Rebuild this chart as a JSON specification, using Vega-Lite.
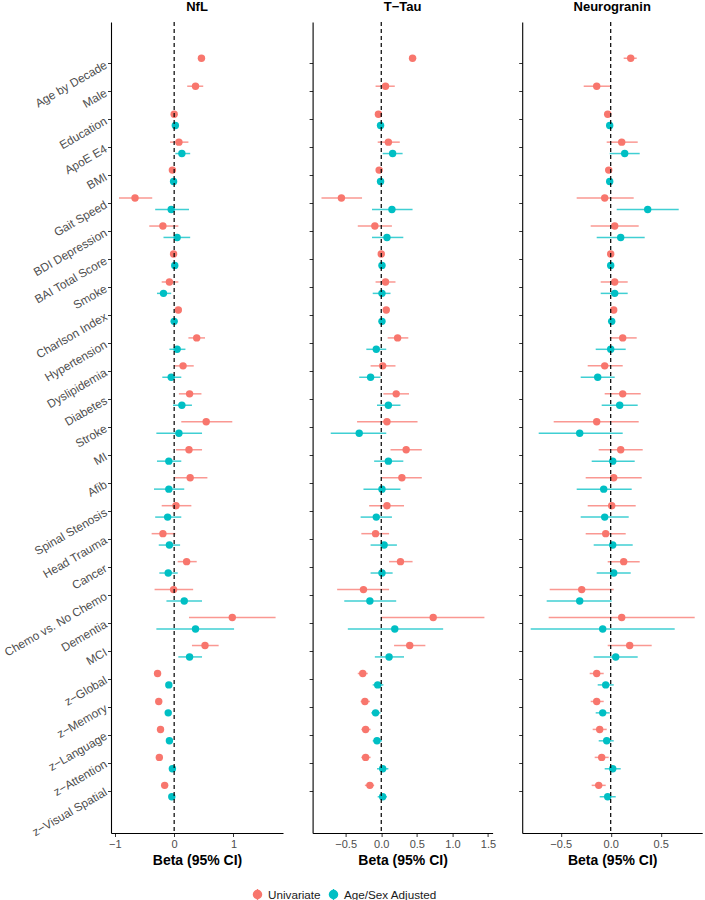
{
  "$schema": "https://vega.github.io/schema/vega-lite/v6.json",
  "background": "white",
  "autosize": {"type": "pad"},
  "padding": {"left": 2, "top": 1, "right": 0, "bottom": 0},
  "config": {
    "font": "Liberation Sans",
    "view": {"stroke": null},
    "axis": {"grid": false, "domainColor": "black", "domainWidth": 1.1, "tickColor": "#333333", "tickSize": 3.5, "tickWidth": 1, "labelColor": "#4D4D4D", "labelFontSize": 11, "labelPadding": 2, "titleFontSize": 14, "titleFontWeight": "bold", "titleColor": "black"},
    "title": {"fontSize": 13, "fontWeight": "bold", "color": "black", "offset": 7},
    "legend": {"padding": 0}
  },
  "datasets": {
    "d": [
      {"m":"NfL","v":"Age by Decade","g":"Univariate","b":0.46,"l":0.42,"h":0.50},
      {"m":"NfL","v":"Male","g":"Univariate","b":0.36,"l":0.22,"h":0.49},
      {"m":"NfL","v":"Education","g":"Univariate","b":0.00,"l":-0.03,"h":0.03},
      {"m":"NfL","v":"Education","g":"Age/Sex Adjusted","b":0.02,"l":-0.01,"h":0.05},
      {"m":"NfL","v":"ApoE E4","g":"Univariate","b":0.08,"l":-0.07,"h":0.24},
      {"m":"NfL","v":"ApoE E4","g":"Age/Sex Adjusted","b":0.13,"l":0.02,"h":0.27},
      {"m":"NfL","v":"BMI","g":"Univariate","b":-0.03,"l":-0.05,"h":-0.01},
      {"m":"NfL","v":"BMI","g":"Age/Sex Adjusted","b":-0.01,"l":-0.03,"h":0.01},
      {"m":"NfL","v":"Gait Speed","g":"Univariate","b":-0.66,"l":-0.93,"h":-0.37},
      {"m":"NfL","v":"Gait Speed","g":"Age/Sex Adjusted","b":-0.05,"l":-0.32,"h":0.25},
      {"m":"NfL","v":"BDI Depression","g":"Univariate","b":-0.19,"l":-0.42,"h":0.07},
      {"m":"NfL","v":"BDI Depression","g":"Age/Sex Adjusted","b":0.05,"l":-0.18,"h":0.27},
      {"m":"NfL","v":"BAI Total Score","g":"Univariate","b":-0.01,"l":-0.03,"h":0.01},
      {"m":"NfL","v":"BAI Total Score","g":"Age/Sex Adjusted","b":0.01,"l":-0.01,"h":0.03},
      {"m":"NfL","v":"Smoke","g":"Univariate","b":-0.08,"l":-0.21,"h":0.07},
      {"m":"NfL","v":"Smoke","g":"Age/Sex Adjusted","b":-0.18,"l":-0.29,"h":-0.05},
      {"m":"NfL","v":"Charlson Index","g":"Univariate","b":0.07,"l":0.03,"h":0.11},
      {"m":"NfL","v":"Charlson Index","g":"Age/Sex Adjusted","b":0.00,"l":-0.03,"h":0.03},
      {"m":"NfL","v":"Hypertension","g":"Univariate","b":0.38,"l":0.24,"h":0.52},
      {"m":"NfL","v":"Hypertension","g":"Age/Sex Adjusted","b":0.05,"l":-0.08,"h":0.19},
      {"m":"NfL","v":"Dyslipidemia","g":"Univariate","b":0.15,"l":0.00,"h":0.33},
      {"m":"NfL","v":"Dyslipidemia","g":"Age/Sex Adjusted","b":-0.05,"l":-0.20,"h":0.12},
      {"m":"NfL","v":"Diabetes","g":"Univariate","b":0.26,"l":0.08,"h":0.46},
      {"m":"NfL","v":"Diabetes","g":"Age/Sex Adjusted","b":0.13,"l":-0.02,"h":0.30},
      {"m":"NfL","v":"Stroke","g":"Univariate","b":0.54,"l":0.12,"h":0.98},
      {"m":"NfL","v":"Stroke","g":"Age/Sex Adjusted","b":0.08,"l":-0.30,"h":0.47},
      {"m":"NfL","v":"MI","g":"Univariate","b":0.25,"l":0.03,"h":0.47},
      {"m":"NfL","v":"MI","g":"Age/Sex Adjusted","b":-0.09,"l":-0.29,"h":0.12},
      {"m":"NfL","v":"Afib","g":"Univariate","b":0.27,"l":0.00,"h":0.56},
      {"m":"NfL","v":"Afib","g":"Age/Sex Adjusted","b":-0.09,"l":-0.34,"h":0.17},
      {"m":"NfL","v":"Spinal Stenosis","g":"Univariate","b":0.03,"l":-0.21,"h":0.29},
      {"m":"NfL","v":"Spinal Stenosis","g":"Age/Sex Adjusted","b":-0.11,"l":-0.32,"h":0.12},
      {"m":"NfL","v":"Head Trauma","g":"Univariate","b":-0.19,"l":-0.38,"h":0.02},
      {"m":"NfL","v":"Head Trauma","g":"Age/Sex Adjusted","b":-0.08,"l":-0.26,"h":0.10},
      {"m":"NfL","v":"Cancer","g":"Univariate","b":0.21,"l":0.06,"h":0.38},
      {"m":"NfL","v":"Cancer","g":"Age/Sex Adjusted","b":-0.10,"l":-0.25,"h":0.06},
      {"m":"NfL","v":"Chemo vs. No Chemo","g":"Univariate","b":-0.01,"l":-0.33,"h":0.32},
      {"m":"NfL","v":"Chemo vs. No Chemo","g":"Age/Sex Adjusted","b":0.17,"l":-0.13,"h":0.47},
      {"m":"NfL","v":"Dementia","g":"Univariate","b":0.98,"l":0.25,"h":1.71},
      {"m":"NfL","v":"Dementia","g":"Age/Sex Adjusted","b":0.36,"l":-0.30,"h":1.01},
      {"m":"NfL","v":"MCI","g":"Univariate","b":0.52,"l":0.30,"h":0.75},
      {"m":"NfL","v":"MCI","g":"Age/Sex Adjusted","b":0.26,"l":0.07,"h":0.47},
      {"m":"NfL","v":"z−Global","g":"Univariate","b":-0.28,"l":-0.32,"h":-0.24},
      {"m":"NfL","v":"z−Global","g":"Age/Sex Adjusted","b":-0.09,"l":-0.13,"h":-0.05},
      {"m":"NfL","v":"z−Memory","g":"Univariate","b":-0.26,"l":-0.30,"h":-0.22},
      {"m":"NfL","v":"z−Memory","g":"Age/Sex Adjusted","b":-0.10,"l":-0.14,"h":-0.06},
      {"m":"NfL","v":"z−Language","g":"Univariate","b":-0.23,"l":-0.27,"h":-0.19},
      {"m":"NfL","v":"z−Language","g":"Age/Sex Adjusted","b":-0.08,"l":-0.12,"h":-0.04},
      {"m":"NfL","v":"z−Attention","g":"Univariate","b":-0.25,"l":-0.29,"h":-0.21},
      {"m":"NfL","v":"z−Attention","g":"Age/Sex Adjusted","b":-0.03,"l":-0.08,"h":0.02},
      {"m":"NfL","v":"z−Visual Spatial","g":"Univariate","b":-0.16,"l":-0.20,"h":-0.12},
      {"m":"NfL","v":"z−Visual Spatial","g":"Age/Sex Adjusted","b":-0.04,"l":-0.08,"h":0.00},

      {"m":"T−Tau","v":"Age by Decade","g":"Univariate","b":0.44,"l":0.39,"h":0.49},
      {"m":"T−Tau","v":"Male","g":"Univariate","b":0.06,"l":-0.08,"h":0.19},
      {"m":"T−Tau","v":"Education","g":"Univariate","b":-0.04,"l":-0.06,"h":-0.02},
      {"m":"T−Tau","v":"Education","g":"Age/Sex Adjusted","b":-0.01,"l":-0.03,"h":0.01},
      {"m":"T−Tau","v":"ApoE E4","g":"Univariate","b":0.10,"l":-0.05,"h":0.26},
      {"m":"T−Tau","v":"ApoE E4","g":"Age/Sex Adjusted","b":0.16,"l":0.02,"h":0.30},
      {"m":"T−Tau","v":"BMI","g":"Univariate","b":-0.03,"l":-0.05,"h":-0.01},
      {"m":"T−Tau","v":"BMI","g":"Age/Sex Adjusted","b":-0.01,"l":-0.03,"h":0.01},
      {"m":"T−Tau","v":"Gait Speed","g":"Univariate","b":-0.56,"l":-0.84,"h":-0.27},
      {"m":"T−Tau","v":"Gait Speed","g":"Age/Sex Adjusted","b":0.15,"l":-0.13,"h":0.44},
      {"m":"T−Tau","v":"BDI Depression","g":"Univariate","b":-0.09,"l":-0.33,"h":0.15},
      {"m":"T−Tau","v":"BDI Depression","g":"Age/Sex Adjusted","b":0.08,"l":-0.13,"h":0.31},
      {"m":"T−Tau","v":"BAI Total Score","g":"Univariate","b":0.00,"l":-0.02,"h":0.02},
      {"m":"T−Tau","v":"BAI Total Score","g":"Age/Sex Adjusted","b":0.01,"l":-0.01,"h":0.03},
      {"m":"T−Tau","v":"Smoke","g":"Univariate","b":0.06,"l":-0.08,"h":0.20},
      {"m":"T−Tau","v":"Smoke","g":"Age/Sex Adjusted","b":0.01,"l":-0.12,"h":0.13},
      {"m":"T−Tau","v":"Charlson Index","g":"Univariate","b":0.07,"l":0.03,"h":0.11},
      {"m":"T−Tau","v":"Charlson Index","g":"Age/Sex Adjusted","b":0.01,"l":-0.03,"h":0.05},
      {"m":"T−Tau","v":"Hypertension","g":"Univariate","b":0.23,"l":0.09,"h":0.38},
      {"m":"T−Tau","v":"Hypertension","g":"Age/Sex Adjusted","b":-0.07,"l":-0.21,"h":0.07},
      {"m":"T−Tau","v":"Dyslipidemia","g":"Univariate","b":0.02,"l":-0.15,"h":0.20},
      {"m":"T−Tau","v":"Dyslipidemia","g":"Age/Sex Adjusted","b":-0.15,"l":-0.31,"h":-0.01},
      {"m":"T−Tau","v":"Diabetes","g":"Univariate","b":0.21,"l":0.03,"h":0.39},
      {"m":"T−Tau","v":"Diabetes","g":"Age/Sex Adjusted","b":0.10,"l":-0.06,"h":0.27},
      {"m":"T−Tau","v":"Stroke","g":"Univariate","b":0.08,"l":-0.34,"h":0.51},
      {"m":"T−Tau","v":"Stroke","g":"Age/Sex Adjusted","b":-0.31,"l":-0.71,"h":0.07},
      {"m":"T−Tau","v":"MI","g":"Univariate","b":0.35,"l":0.13,"h":0.57},
      {"m":"T−Tau","v":"MI","g":"Age/Sex Adjusted","b":0.10,"l":-0.10,"h":0.31},
      {"m":"T−Tau","v":"Afib","g":"Univariate","b":0.29,"l":0.01,"h":0.57},
      {"m":"T−Tau","v":"Afib","g":"Age/Sex Adjusted","b":0.01,"l":-0.25,"h":0.27},
      {"m":"T−Tau","v":"Spinal Stenosis","g":"Univariate","b":0.08,"l":-0.17,"h":0.32},
      {"m":"T−Tau","v":"Spinal Stenosis","g":"Age/Sex Adjusted","b":-0.07,"l":-0.29,"h":0.15},
      {"m":"T−Tau","v":"Head Trauma","g":"Univariate","b":-0.08,"l":-0.28,"h":0.11},
      {"m":"T−Tau","v":"Head Trauma","g":"Age/Sex Adjusted","b":0.04,"l":-0.15,"h":0.22},
      {"m":"T−Tau","v":"Cancer","g":"Univariate","b":0.27,"l":0.11,"h":0.44},
      {"m":"T−Tau","v":"Cancer","g":"Age/Sex Adjusted","b":0.01,"l":-0.15,"h":0.16},
      {"m":"T−Tau","v":"Chemo vs. No Chemo","g":"Univariate","b":-0.25,"l":-0.62,"h":0.11},
      {"m":"T−Tau","v":"Chemo vs. No Chemo","g":"Age/Sex Adjusted","b":-0.16,"l":-0.52,"h":0.21},
      {"m":"T−Tau","v":"Dementia","g":"Univariate","b":0.73,"l":0.00,"h":1.45},
      {"m":"T−Tau","v":"Dementia","g":"Age/Sex Adjusted","b":0.19,"l":-0.47,"h":0.87},
      {"m":"T−Tau","v":"MCI","g":"Univariate","b":0.40,"l":0.18,"h":0.62},
      {"m":"T−Tau","v":"MCI","g":"Age/Sex Adjusted","b":0.11,"l":-0.09,"h":0.32},
      {"m":"T−Tau","v":"z−Global","g":"Univariate","b":-0.26,"l":-0.33,"h":-0.19},
      {"m":"T−Tau","v":"z−Global","g":"Age/Sex Adjusted","b":-0.05,"l":-0.12,"h":0.03},
      {"m":"T−Tau","v":"z−Memory","g":"Univariate","b":-0.23,"l":-0.29,"h":-0.16},
      {"m":"T−Tau","v":"z−Memory","g":"Age/Sex Adjusted","b":-0.08,"l":-0.14,"h":-0.01},
      {"m":"T−Tau","v":"z−Language","g":"Univariate","b":-0.22,"l":-0.28,"h":-0.15},
      {"m":"T−Tau","v":"z−Language","g":"Age/Sex Adjusted","b":-0.06,"l":-0.12,"h":0.01},
      {"m":"T−Tau","v":"z−Attention","g":"Univariate","b":-0.22,"l":-0.28,"h":-0.15},
      {"m":"T−Tau","v":"z−Attention","g":"Age/Sex Adjusted","b":0.02,"l":-0.06,"h":0.10},
      {"m":"T−Tau","v":"z−Visual Spatial","g":"Univariate","b":-0.16,"l":-0.23,"h":-0.10},
      {"m":"T−Tau","v":"z−Visual Spatial","g":"Age/Sex Adjusted","b":0.02,"l":-0.05,"h":0.08},

      {"m":"Neurogranin","v":"Age by Decade","g":"Univariate","b":0.20,"l":0.13,"h":0.26},
      {"m":"Neurogranin","v":"Male","g":"Univariate","b":-0.14,"l":-0.27,"h":0.00},
      {"m":"Neurogranin","v":"Education","g":"Univariate","b":-0.03,"l":-0.05,"h":-0.01},
      {"m":"Neurogranin","v":"Education","g":"Age/Sex Adjusted","b":-0.01,"l":-0.03,"h":0.01},
      {"m":"Neurogranin","v":"ApoE E4","g":"Univariate","b":0.11,"l":-0.04,"h":0.27},
      {"m":"Neurogranin","v":"ApoE E4","g":"Age/Sex Adjusted","b":0.14,"l":-0.01,"h":0.29},
      {"m":"Neurogranin","v":"BMI","g":"Univariate","b":-0.02,"l":-0.04,"h":0.00},
      {"m":"Neurogranin","v":"BMI","g":"Age/Sex Adjusted","b":-0.01,"l":-0.03,"h":0.01},
      {"m":"Neurogranin","v":"Gait Speed","g":"Univariate","b":-0.06,"l":-0.34,"h":0.23},
      {"m":"Neurogranin","v":"Gait Speed","g":"Age/Sex Adjusted","b":0.37,"l":0.06,"h":0.68},
      {"m":"Neurogranin","v":"BDI Depression","g":"Univariate","b":0.04,"l":-0.20,"h":0.28},
      {"m":"Neurogranin","v":"BDI Depression","g":"Age/Sex Adjusted","b":0.10,"l":-0.14,"h":0.34},
      {"m":"Neurogranin","v":"BAI Total Score","g":"Univariate","b":0.00,"l":-0.02,"h":0.02},
      {"m":"Neurogranin","v":"BAI Total Score","g":"Age/Sex Adjusted","b":0.00,"l":-0.02,"h":0.02},
      {"m":"Neurogranin","v":"Smoke","g":"Univariate","b":0.04,"l":-0.10,"h":0.17},
      {"m":"Neurogranin","v":"Smoke","g":"Age/Sex Adjusted","b":0.04,"l":-0.10,"h":0.17},
      {"m":"Neurogranin","v":"Charlson Index","g":"Univariate","b":0.03,"l":0.00,"h":0.06},
      {"m":"Neurogranin","v":"Charlson Index","g":"Age/Sex Adjusted","b":0.01,"l":-0.02,"h":0.04},
      {"m":"Neurogranin","v":"Hypertension","g":"Univariate","b":0.12,"l":-0.01,"h":0.26},
      {"m":"Neurogranin","v":"Hypertension","g":"Age/Sex Adjusted","b":0.00,"l":-0.15,"h":0.15},
      {"m":"Neurogranin","v":"Dyslipidemia","g":"Univariate","b":-0.06,"l":-0.23,"h":0.12},
      {"m":"Neurogranin","v":"Dyslipidemia","g":"Age/Sex Adjusted","b":-0.13,"l":-0.30,"h":0.04},
      {"m":"Neurogranin","v":"Diabetes","g":"Univariate","b":0.12,"l":-0.06,"h":0.30},
      {"m":"Neurogranin","v":"Diabetes","g":"Age/Sex Adjusted","b":0.09,"l":-0.09,"h":0.27},
      {"m":"Neurogranin","v":"Stroke","g":"Univariate","b":-0.14,"l":-0.57,"h":0.28},
      {"m":"Neurogranin","v":"Stroke","g":"Age/Sex Adjusted","b":-0.31,"l":-0.72,"h":0.12},
      {"m":"Neurogranin","v":"MI","g":"Univariate","b":0.10,"l":-0.12,"h":0.32},
      {"m":"Neurogranin","v":"MI","g":"Age/Sex Adjusted","b":0.02,"l":-0.19,"h":0.24},
      {"m":"Neurogranin","v":"Afib","g":"Univariate","b":0.03,"l":-0.25,"h":0.31},
      {"m":"Neurogranin","v":"Afib","g":"Age/Sex Adjusted","b":-0.07,"l":-0.34,"h":0.21},
      {"m":"Neurogranin","v":"Spinal Stenosis","g":"Univariate","b":0.01,"l":-0.23,"h":0.25},
      {"m":"Neurogranin","v":"Spinal Stenosis","g":"Age/Sex Adjusted","b":-0.06,"l":-0.30,"h":0.18},
      {"m":"Neurogranin","v":"Head Trauma","g":"Univariate","b":-0.05,"l":-0.25,"h":0.15},
      {"m":"Neurogranin","v":"Head Trauma","g":"Age/Sex Adjusted","b":0.02,"l":-0.17,"h":0.22},
      {"m":"Neurogranin","v":"Cancer","g":"Univariate","b":0.13,"l":-0.03,"h":0.29},
      {"m":"Neurogranin","v":"Cancer","g":"Age/Sex Adjusted","b":0.03,"l":-0.14,"h":0.20},
      {"m":"Neurogranin","v":"Chemo vs. No Chemo","g":"Univariate","b":-0.29,"l":-0.61,"h":0.03},
      {"m":"Neurogranin","v":"Chemo vs. No Chemo","g":"Age/Sex Adjusted","b":-0.31,"l":-0.64,"h":0.01},
      {"m":"Neurogranin","v":"Dementia","g":"Univariate","b":0.11,"l":-0.62,"h":0.84},
      {"m":"Neurogranin","v":"Dementia","g":"Age/Sex Adjusted","b":-0.08,"l":-0.80,"h":0.64},
      {"m":"Neurogranin","v":"MCI","g":"Univariate","b":0.19,"l":-0.03,"h":0.41},
      {"m":"Neurogranin","v":"MCI","g":"Age/Sex Adjusted","b":0.05,"l":-0.17,"h":0.27},
      {"m":"Neurogranin","v":"z−Global","g":"Univariate","b":-0.14,"l":-0.21,"h":-0.07},
      {"m":"Neurogranin","v":"z−Global","g":"Age/Sex Adjusted","b":-0.05,"l":-0.13,"h":0.03},
      {"m":"Neurogranin","v":"z−Memory","g":"Univariate","b":-0.14,"l":-0.20,"h":-0.07},
      {"m":"Neurogranin","v":"z−Memory","g":"Age/Sex Adjusted","b":-0.08,"l":-0.15,"h":-0.01},
      {"m":"Neurogranin","v":"z−Language","g":"Univariate","b":-0.11,"l":-0.18,"h":-0.04},
      {"m":"Neurogranin","v":"z−Language","g":"Age/Sex Adjusted","b":-0.04,"l":-0.12,"h":0.03},
      {"m":"Neurogranin","v":"z−Attention","g":"Univariate","b":-0.09,"l":-0.16,"h":-0.02},
      {"m":"Neurogranin","v":"z−Attention","g":"Age/Sex Adjusted","b":0.02,"l":-0.06,"h":0.10},
      {"m":"Neurogranin","v":"z−Visual Spatial","g":"Univariate","b":-0.12,"l":-0.19,"h":-0.05},
      {"m":"Neurogranin","v":"z−Visual Spatial","g":"Age/Sex Adjusted","b":-0.03,"l":-0.11,"h":0.05}
    ]
  },
  "bounds": "flush",
  "spacing": 29.6,
  "resolve": {"scale": {"x": "independent", "y": "independent", "color": "shared", "yOffset": "independent"}, "axis": {"x": "independent", "y": "independent"}, "legend": {"color": "shared"}},
  "hconcat": [
    {
      "width": 172, "height": 811,
      "title": {"text": "NfL"},
      "layer": [
        {
          "data": {"name": "d"},
          "transform": [{"filter": "datum.m === 'NfL'"}],
          "mark": {"type": "rule", "strokeWidth": 1.5, "opacity": 0.75},
          "encoding": {
            "y": {"field": "v", "type": "nominal", "sort": null, "scale": {"domain": ["Age by Decade","Male","Education","ApoE E4","BMI","Gait Speed","BDI Depression","BAI Total Score","Smoke","Charlson Index","Hypertension","Dyslipidemia","Diabetes","Stroke","MI","Afib","Spinal Stenosis","Head Trauma","Cancer","Chemo vs. No Chemo","Dementia","MCI","z−Global","z−Memory","z−Language","z−Attention","z−Visual Spatial"], "paddingInner": 0, "paddingOuter": 1}, "axis": {"title": null, "labelAngle": -30, "labelAlign": "right", "labelBaseline": "middle", "labelFontSize": 11.8, "labelPadding": 2}},
            "yOffset": {"field": "g", "type": "nominal", "scale": {"domain": ["Univariate", "Age/Sex Adjusted"], "paddingInner": 0, "paddingOuter": 0.227}},
            "x": {"field": "l", "type": "quantitative", "scale": {"domain": [-1.065, 1.835], "nice": false, "zero": false}, "axis": {"title": "Beta (95% CI)", "values": [-1, 0, 1], "format": "d", "titlePadding": 4}},
            "x2": {"field": "h"},
            "color": {"field": "g", "type": "nominal", "scale": {"domain": ["Univariate", "Age/Sex Adjusted"], "range": ["#F8766D", "#00BFC4"]}, "legend": {"title": null, "orient": "none", "direction": "horizontal", "legendX": 140, "legendY": 866, "labelFontSize": 11.7, "labelColor": "#1A1A1A", "columnPadding": 5, "labelOffset": 4, "symbolSize": 121, "symbolType": "M0,-1L0,1M-0.73,0A0.73,0.73,0,1,0,0.73,0A0.73,0.73,0,1,0,-0.73,0Z", "symbolStrokeWidth": 1.5, "symbolOpacity": 1, "encode": {"symbols": {"update": {"stroke": {"signal": "datum.value === 'Univariate' ? '#F8766D' : '#00BFC4'"}, "fill": {"signal": "datum.value === 'Univariate' ? '#F8766D' : '#00BFC4'"}, "strokeWidth": {"value": 1.5}}}}}}
          }
        },
        {
          "data": {"name": "d"},
          "transform": [{"filter": "datum.m === 'NfL'"}],
          "mark": {"type": "point", "filled": true, "size": 55, "opacity": 1},
          "encoding": {
            "y": {"field": "v", "type": "nominal", "sort": null},
            "yOffset": {"field": "g", "type": "nominal"},
            "x": {"field": "b", "type": "quantitative"},
            "color": {"field": "g", "type": "nominal"}
          }
        },
        {
          "data": {"values": [{}]},
          "mark": {"type": "rule", "color": "black", "strokeWidth": 1.2, "strokeDash": [4, 3]},
          "encoding": {"x": {"datum": 0}}
        }
      ]
    },
    {
      "width": 180, "height": 811,
      "title": {"text": "T−Tau"},
      "layer": [
        {
          "data": {"name": "d"},
          "transform": [{"filter": "datum.m === 'T−Tau'"}],
          "mark": {"type": "rule", "strokeWidth": 1.5, "opacity": 0.75},
          "encoding": {
            "y": {"field": "v", "type": "nominal", "sort": null, "scale": {"domain": ["Age by Decade","Male","Education","ApoE E4","BMI","Gait Speed","BDI Depression","BAI Total Score","Smoke","Charlson Index","Hypertension","Dyslipidemia","Diabetes","Stroke","MI","Afib","Spinal Stenosis","Head Trauma","Cancer","Chemo vs. No Chemo","Dementia","MCI","z−Global","z−Memory","z−Language","z−Attention","z−Visual Spatial"], "paddingInner": 0, "paddingOuter": 1}, "axis": {"title": null, "labels": false}},
            "yOffset": {"field": "g", "type": "nominal", "scale": {"domain": ["Univariate", "Age/Sex Adjusted"], "paddingInner": 0, "paddingOuter": 0.227}},
            "x": {"field": "l", "type": "quantitative", "scale": {"domain": [-0.965, 1.565], "nice": false, "zero": false}, "axis": {"title": "Beta (95% CI)", "values": [-0.5, 0, 0.5, 1, 1.5], "format": ".1f", "titlePadding": 4}},
            "x2": {"field": "h"},
            "color": {"field": "g", "type": "nominal"}
          }
        },
        {
          "data": {"name": "d"},
          "transform": [{"filter": "datum.m === 'T−Tau'"}],
          "mark": {"type": "point", "filled": true, "size": 55, "opacity": 1},
          "encoding": {
            "y": {"field": "v", "type": "nominal", "sort": null},
            "yOffset": {"field": "g", "type": "nominal"},
            "x": {"field": "b", "type": "quantitative"},
            "color": {"field": "g", "type": "nominal"}
          }
        },
        {
          "data": {"values": [{}]},
          "mark": {"type": "rule", "color": "black", "strokeWidth": 1.2, "strokeDash": [4, 3]},
          "encoding": {"x": {"datum": 0}}
        }
      ]
    },
    {
      "width": 180, "height": 811,
      "title": {"text": "Neurogranin"},
      "layer": [
        {
          "data": {"name": "d"},
          "transform": [{"filter": "datum.m === 'Neurogranin'"}],
          "mark": {"type": "rule", "strokeWidth": 1.5, "opacity": 0.75},
          "encoding": {
            "y": {"field": "v", "type": "nominal", "sort": null, "scale": {"domain": ["Age by Decade","Male","Education","ApoE E4","BMI","Gait Speed","BDI Depression","BAI Total Score","Smoke","Charlson Index","Hypertension","Dyslipidemia","Diabetes","Stroke","MI","Afib","Spinal Stenosis","Head Trauma","Cancer","Chemo vs. No Chemo","Dementia","MCI","z−Global","z−Memory","z−Language","z−Attention","z−Visual Spatial"], "paddingInner": 0, "paddingOuter": 1}, "axis": {"title": null, "labels": false}},
            "yOffset": {"field": "g", "type": "nominal", "scale": {"domain": ["Univariate", "Age/Sex Adjusted"], "paddingInner": 0, "paddingOuter": 0.227}},
            "x": {"field": "l", "type": "quantitative", "scale": {"domain": [-0.885, 0.915], "nice": false, "zero": false}, "axis": {"title": "Beta (95% CI)", "values": [-0.5, 0, 0.5], "format": ".1f", "titlePadding": 4}},
            "x2": {"field": "h"},
            "color": {"field": "g", "type": "nominal"}
          }
        },
        {
          "data": {"name": "d"},
          "transform": [{"filter": "datum.m === 'Neurogranin'"}],
          "mark": {"type": "point", "filled": true, "size": 55, "opacity": 1},
          "encoding": {
            "y": {"field": "v", "type": "nominal", "sort": null},
            "yOffset": {"field": "g", "type": "nominal"},
            "x": {"field": "b", "type": "quantitative"},
            "color": {"field": "g", "type": "nominal"}
          }
        },
        {
          "data": {"values": [{}]},
          "mark": {"type": "rule", "color": "black", "strokeWidth": 1.2, "strokeDash": [4, 3]},
          "encoding": {"x": {"datum": 0}}
        }
      ]
    }
  ]
}
